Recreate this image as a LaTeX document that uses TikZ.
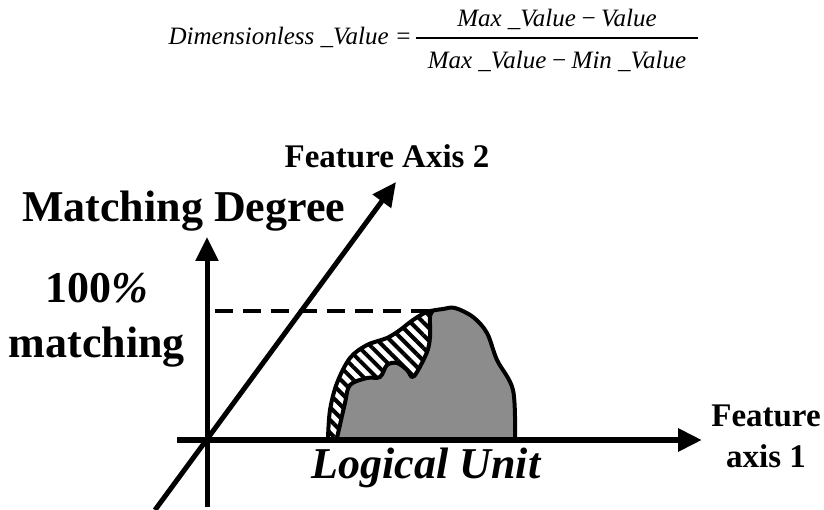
\documentclass[tikz,border=0pt]{standalone}
\usepackage{fontspec}
\setmainfont{Liberation Serif}
\usetikzlibrary{arrows.meta,patterns.meta}
\definecolor{shapegray}{rgb}{0.55,0.55,0.55}
\tikzset{
  axisline/.style={line width=5pt, -{Triangle[length=24pt,width=22pt]}},
  outlineline/.style={line width=4pt, line join=round, line cap=round},
  dashline/.style={line width=4pt, dash pattern=on 18pt off 10pt},
  bigbold/.style={font=\fontsize{44}{48}\selectfont\bfseries, inner sep=0pt},
  midbold/.style={font=\fontsize{33}{38}\selectfont\bfseries, inner sep=0pt},
  italbold/.style={font=\fontsize{44}{48}\selectfont\bfseries\itshape, inner sep=0pt},
  formula/.style={font=\fontsize{25}{29}\selectfont\itshape, inner sep=0pt},
}
\begin{document}
\begin{tikzpicture}[x=1pt,y=-1pt]
\useasboundingbox (0,0) rectangle (824,510);
\fill[white] (0,0) rectangle (824,510);

% formula
\node[formula, anchor=base east] (lhs) at (412,45) {Dimensionless \_Value =};
\node[formula, anchor=base] (num) at (557,27) {Max \_Value\,−\,Value};
\node[formula, anchor=base] (den) at (557,69) {Max \_Value\,−\,Min \_Value};
\coordinate (barL) at (416,38);
\coordinate (barR) at (698,38);
\draw[line width=1.3pt] (barL) -- (barR);

% key points
\coordinate (O) at (207,440);
\coordinate (vBot) at (207,507);
\coordinate (vTop) at (207,237);
\coordinate (hL) at (177,440);
\coordinate (hR) at (702,440);
\coordinate (dBot) at (155,510);
\coordinate (dTop) at (396,182);
\coordinate (dashL) at (215,311);
\coordinate (dashR) at (430,311);

% shape: gray part
\fill[shapegray]
  plot[smooth, tension=0.55] coordinates {(337,438) (345,403) (350,385) (367,378) (380,377) (387,365) (397,363) (407,370) (412,377) (417,372) (427,352) (430,337) (430,317) (432,312)}
  -- plot[smooth, tension=0.55] coordinates {(432,312) (443,309) (455,308) (473,317) (487,333) (497,360) (513,390) (515,438)}
  -- cycle;
% shape: hatched part
\path[fill=white]
  plot[smooth, tension=0.55] coordinates {(328,438) (330,410) (337,383) (350,358) (367,345) (387,338) (400,330) (413,320) (427,312) (432,312)}
  -- plot[smooth, tension=0.55] coordinates {(432,312) (430,317) (430,337) (427,352) (417,372) (412,377) (407,370) (397,363) (387,365) (380,377) (367,378) (350,385) (345,403) (337,438)}
  -- cycle;
\path[pattern={Lines[angle=-45, distance=9pt, line width=4pt]}]
  plot[smooth, tension=0.55] coordinates {(328,438) (330,410) (337,383) (350,358) (367,345) (387,338) (400,330) (413,320) (427,312) (432,312)}
  -- plot[smooth, tension=0.55] coordinates {(432,312) (430,317) (430,337) (427,352) (417,372) (412,377) (407,370) (397,363) (387,365) (380,377) (367,378) (350,385) (345,403) (337,438)}
  -- cycle;

% dashed level
\draw[dashline] (dashL) -- (dashR);

% outlines
\draw[outlineline]
  plot[smooth, tension=0.55] coordinates {(328,438) (330,410) (337,383) (350,358) (367,345) (387,338) (400,330) (413,320) (427,312) (443,309) (455,308) (473,317) (487,333) (497,360) (513,390) (515,438)};
\draw[outlineline]
  plot[smooth, tension=0.55] coordinates {(337,438) (345,403) (350,385) (367,378) (380,377) (387,365) (397,363) (407,370) (412,377) (417,372) (427,352) (430,337) (430,317) (432,312)};

% axes
\draw[axisline] (vBot) -- (vTop);
\draw[axisline, line width=6pt] (hL) -- (hR);
\draw[axisline] (dBot) -- (dTop);

% labels
\node[midbold, anchor=base] (fa2) at (387,168) {Feature Axis 2};
\node[bigbold, anchor=base west] (md) at (22,222) {Matching Degree};
\node[bigbold, anchor=base] (pct) at (97,303) {100\textit{\%}};
\node[bigbold, anchor=base] (mtc) at (97,357) {matching};
\node[midbold, anchor=base] (fa1a) at (766,426) {Feature};
\node[midbold, anchor=base] (fa1b) at (766,467) {axis 1};
\node[italbold, anchor=base] (lu) at (426,478) {Logical Unit};
\end{tikzpicture}
\end{document}
